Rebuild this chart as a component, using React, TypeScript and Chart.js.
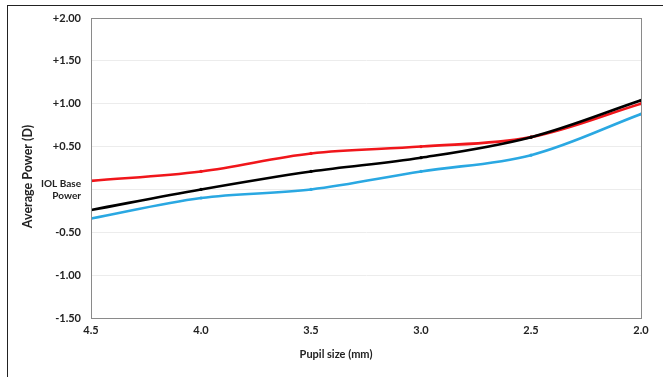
import React, { useEffect, useRef } from "react";
import { Chart, registerables } from "chart.js";

Chart.register(...registerables);

const pupilSizes = [4.5, 4.0, 3.5, 3.0, 2.5, 2.0];
const seriesBlack = [-0.24, 0.0, 0.21, 0.37, 0.61, 1.04];
const seriesRed = [0.1, 0.21, 0.42, 0.5, 0.61, 1.0];
const seriesBlue = [-0.34, -0.1, 0.0, 0.21, 0.4, 0.88];
const yTickValues = [2.0, 1.5, 1.0, 0.5, 0, -0.5, -1.0, -1.5];
const zeroLabel = ["IOL Base", "Power"];
const xTitle = "Pupil size (mm)";
const yTitle = "Average Power (D)";

const FONT = "Lato, 'Open Sans', sans-serif";
const TEXT = "#222222";

const toPoints = (vals: number[]) => pupilSizes.map((x, i) => ({ x, y: vals[i] }));

const framePlugin = {
  id: "frame",
  afterDraw(chart: any) {
    const { ctx, chartArea } = chart;
    ctx.save();
    ctx.strokeStyle = "#8a8a8a";
    ctx.lineWidth = 1;
    ctx.strokeRect(
      Math.round(chartArea.left) + 0.5,
      Math.round(chartArea.top) + 0.5,
      Math.round(chartArea.right - chartArea.left),
      Math.round(chartArea.bottom - chartArea.top)
    );
    // axis titles
    ctx.fillStyle = TEXT;
    ctx.textAlign = "center";
    ctx.textBaseline = "middle";
    ctx.font = `bold 11px ${FONT}`;
    ctx.fillText(xTitle, 336, 354);
    ctx.translate(28, 176.5);
    ctx.rotate(-Math.PI / 2);
    ctx.font = `bold 12.5px ${FONT}`;
    ctx.fillText(yTitle, 0, 0);
    ctx.restore();
  },
};

export default function App() {
  const canvasRef = useRef<HTMLCanvasElement | null>(null);

  useEffect(() => {
    if (!canvasRef.current) return;
    const mk = (label: string, data: number[], color: string) => ({
      label,
      data: toPoints(data),
      borderColor: color,
      backgroundColor: color,
      borderWidth: 2.6,
      pointRadius: 1.6,
      pointBorderWidth: 0,
      tension: 0.35,
    });
    const chart = new Chart(canvasRef.current, {
      type: "line",
      data: {
        datasets: [
          mk("Black", seriesBlack, "#000000"),
          mk("Red", seriesRed, "#f0161b"),
          mk("Blue", seriesBlue, "#2aa8e2"),
        ],
      },
      options: {
        animation: false,
        responsive: false,
        maintainAspectRatio: false,
        layout: { padding: { left: 0, top: 18, right: 22, bottom: 0 } },
        plugins: {
          legend: { display: false },
          tooltip: { enabled: false },
        },
        scales: {
          x: {
            type: "linear",
            reverse: true,
            min: 2.0,
            max: 4.5,
            afterFit: (s: any) => {
              s.height = 59;
            },
            afterBuildTicks: (s: any) => {
              s.ticks = pupilSizes.map((v) => ({ value: v }));
            },
            grid: { display: false, drawTicks: false },
            border: { display: true, color: "#8a8a8a" },
            ticks: {
              padding: 6,
              color: TEXT,
              font: { family: FONT, size: 11, weight: "bold" },
              callback: (v: any) => Number(v).toFixed(1),
              maxRotation: 0,
            },
            title: { display: false },
          },
          y: {
            min: -1.5,
            max: 2.0,
            afterFit: (s: any) => {
              s.width = 91;
            },
            afterBuildTicks: (s: any) => {
              s.ticks = yTickValues.map((v) => ({ value: v }));
            },
            grid: { color: "#ececec", lineWidth: 1, drawTicks: false },
            border: { display: true, color: "#8a8a8a" },
            ticks: {
              padding: 10,
              color: TEXT,
              font: (c: any) => ({
                family: FONT,
                size: c.tick && Math.abs(c.tick.value) < 1e-9 ? 10 : 11,
                weight: "bold",
              }),
              callback: (v: any) => {
                const n = Number(v);
                if (Math.abs(n) < 1e-9) return zeroLabel;
                return (n > 0 ? "+" : "") + n.toFixed(2);
              },
            },
            title: { display: false },
          },
        },
      } as any,
      plugins: [framePlugin],
    });
    return () => chart.destroy();
  }, []);

  return (
    <div
      style={{
        position: "fixed",
        left: 0,
        top: 0,
        width: 663,
        height: 377,
        background: "#ffffff",
        overflow: "hidden",
      }}
    >
      <canvas
        ref={canvasRef}
        width={663}
        height={377}
        style={{ position: "absolute", left: 0, top: 0, width: 663, height: 377 }}
      />
      <div
        style={{
          position: "absolute",
          left: 7,
          top: 5,
          width: 663,
          height: 377,
          borderTop: "1.5px solid #222",
          borderLeft: "1.5px solid #222",
          pointerEvents: "none",
        }}
      />
    </div>
  );
}
